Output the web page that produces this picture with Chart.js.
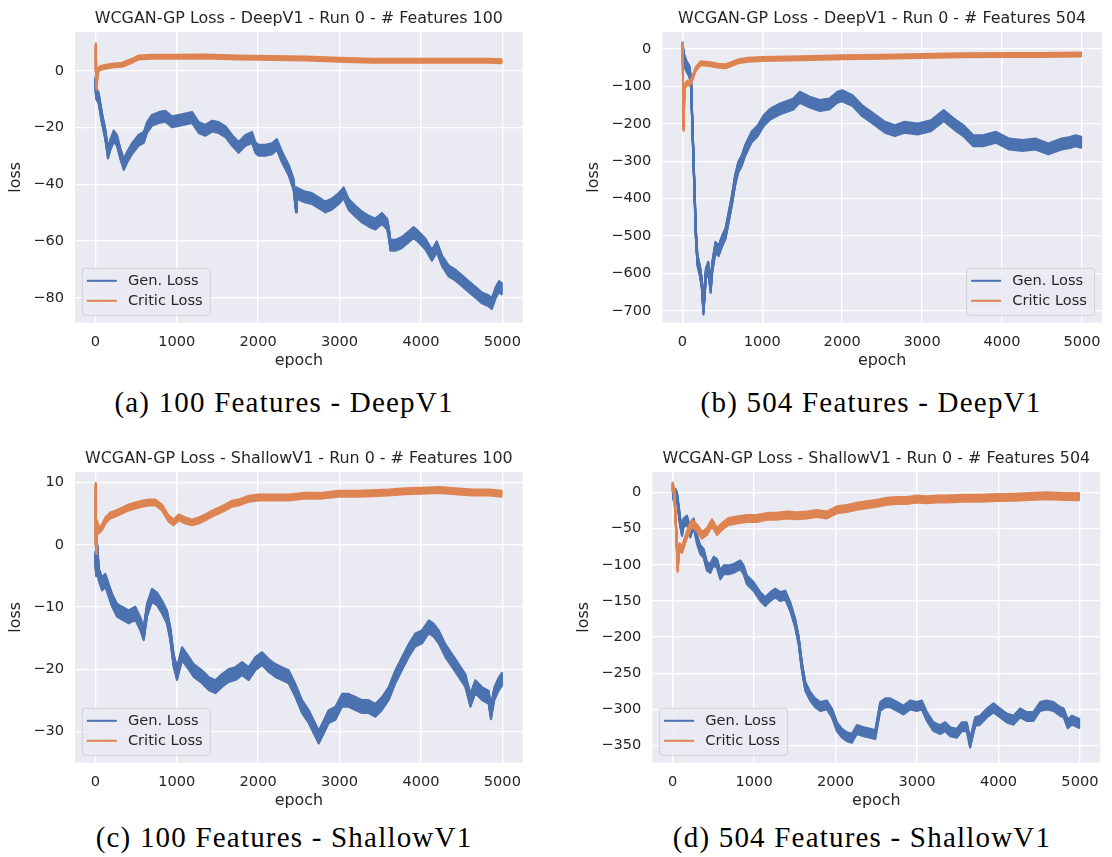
<!DOCTYPE html>
<html>
<head>
<meta charset="utf-8">
<script src="https://cdn.jsdelivr.net/npm/chart.js@4.4.1/dist/chart.umd.min.js"></script>
<style>
  body { margin: 0; background: #fff; }
  #page { position: relative; width: 1112px; height: 857px; overflow: hidden; }
  .panel { position: absolute; width: 556px; height: 380px; }
  .caption {
    position: absolute;
    font-family: "Liberation Serif", serif;
    font-size: 29px;
    color: #000;
    white-space: nowrap;
    letter-spacing: 1.2px;
    transform: translate(-50%, -50%);
  }
</style>
</head>
<body>
<div id="page">
  <div class="panel" style="left:0;top:0"><canvas id="chartA" width="556" height="380"></canvas></div>
  <div class="panel" style="left:556px;top:0"><canvas id="chartB" width="556" height="380"></canvas></div>
  <div class="panel" style="left:0;top:440px"><canvas id="chartC" width="556" height="380"></canvas></div>
  <div class="panel" style="left:556px;top:440px"><canvas id="chartD" width="556" height="380"></canvas></div>
  <div class="caption" id="capA" style="left:284px;top:402px"></div>
  <div class="caption" id="capB" style="left:871px;top:402px"></div>
  <div class="caption" id="capC" style="left:284px;top:837px"></div>
  <div class="caption" id="capD" style="left:862px;top:837px"></div>
</div>
<script>
// titles, captions and ticks
const titles = [
  "WCGAN-GP Loss - DeepV1 - Run 0 - # Features 100",
  "WCGAN-GP Loss - DeepV1 - Run 0 - # Features 504",
  "WCGAN-GP Loss - ShallowV1 - Run 0 - # Features 100",
  "WCGAN-GP Loss - ShallowV1 - Run 0 - # Features 504"
];
const captions = [
  "(a) 100 Features - DeepV1",
  "(b) 504 Features - DeepV1",
  "(c) 100 Features - ShallowV1",
  "(d) 504 Features - ShallowV1"
];
const seriesNames = ["Gen. Loss", "Critic Loss"];
const xTicks = [0, 1000, 2000, 3000, 4000, 5000];
const yTicksA = [0, -20, -40, -60, -80];
const yTicksB = [0, -100, -200, -300, -400, -500, -600, -700];
const yTicksC = [10, 0, -10, -20, -30];
const yTicksD = [0, -50, -100, -150, -200, -250, -300, -350];

// DeepV1, 100 features
const genEpochsA = [0, 10, 40, 80, 120, 155, 185, 225, 265, 305, 350, 390, 450, 530, 595, 635, 695, 780, 860, 940,
  1025, 1105, 1190, 1270, 1350, 1435, 1515, 1600, 1680, 1760, 1845, 1925, 1965, 2005, 2090, 2170, 2230, 2295, 2375, 2435,
  2465, 2475, 2500, 2580, 2660, 2745, 2825, 2905, 2990, 3050, 3110, 3195, 3275, 3360, 3440, 3520, 3585, 3610, 3625, 3685,
  3765, 3850, 3910, 3970, 4055, 4135, 4195, 4260, 4340, 4425, 4505, 4585, 4670, 4750, 4830, 4870, 4920, 4960, 5000];
const genLossA = [-4, -8, -9.5, -16.5, -22, -29, -26, -23, -24.5, -29, -33, -30.5, -27.5, -24.5, -23.5, -20, -17.5, -16.5, -16, -18,
  -17.5, -17, -16.5, -20, -21, -19.5, -20, -21.5, -24.5, -27, -24.5, -23.5, -27, -28, -28, -27.5, -26, -30.5, -35, -40,
  -48, -43, -43.5, -44.5, -45, -46.5, -48, -47, -45, -43, -47, -49.5, -51.5, -53, -54, -52, -54, -58, -61.5, -61.5,
  -60.5, -58.5, -57, -58.5, -61, -65, -62, -67, -70.5, -72, -74, -76, -78, -80, -81, -82, -78, -76, -77];
const criticEpochsA = [0, 5, 15, 30, 60, 100, 200, 330, 450, 530, 700, 940, 1350, 1760, 2170, 2580, 2990, 3400, 3810, 4220, 4830, 5000];
const criticLossA = [0, 9, -6, 0, 1, 1.2, 1.8, 2.1, 3.5, 4.7, 4.9, 4.9, 5, 4.7, 4.5, 4.3, 3.9, 3.5, 3.5, 3.5, 3.5, 3.3];

// DeepV1, 504 features
const genEpochsB = [0, 25, 50, 90, 110, 130, 150, 170, 190, 220, 245, 265, 295, 325, 355, 375, 415, 455, 500, 540,
  580, 620, 660, 700, 745, 785, 865, 945, 1020, 1100, 1225, 1390, 1470, 1595, 1720, 1840, 1940, 2000, 2130, 2250,
  2370, 2535, 2660, 2780, 2945, 3110, 3270, 3395, 3515, 3640, 3760, 3925, 4090, 4255, 4415, 4580, 4745, 4850, 4920, 5000];
const genLossB = [5, -30, -45, -60, -93, -227, -360, -494, -565, -592, -628, -695, -601, -583, -637, -583, -530, -539, -512, -494,
  -450, -405, -352, -316, -298, -272, -236, -218, -191, -174, -160, -147, -129, -142, -151, -147, -129, -125, -138, -165,
  -183, -209, -218, -209, -214, -205, -178, -200, -218, -245, -245, -236, -254, -258, -254, -267, -254, -250, -245, -250];
const criticEpochsB = [0, 8, 16, 25, 35, 60, 90, 130, 170, 230, 335, 455, 540, 620, 700, 825, 1000, 1500, 2000, 2500, 3000, 3500, 4000, 4500, 5000];
const criticLossB = [10, -60, -214, -130, -100, -90, -93, -76, -53, -38, -40, -45, -46, -40, -33, -29, -27, -25, -22, -20.5, -19, -17, -16, -16, -15];

// ShallowV1, 100 features
const genEpochsC = [0, 10, 25, 41, 82, 123, 164, 205, 266, 328, 410, 491, 553, 594, 635, 696, 758, 819, 880, 921,
  962, 1003, 1065, 1126, 1208, 1310, 1392, 1474, 1556, 1638, 1720, 1802, 1884, 1966, 2048, 2129, 2211, 2293, 2375, 2457,
  2539, 2621, 2703, 2744, 2805, 2867, 2948, 3030, 3112, 3194, 3276, 3358, 3440, 3522, 3604, 3686, 3767, 3849, 3931, 4013,
  4095, 4156, 4218, 4300, 4382, 4464, 4545, 4607, 4668, 4750, 4832, 4860, 4900, 4950, 5000];
const genLossC = [-2, -4, -1, -4.7, -6.3, -5.7, -7.3, -8.9, -10.5, -11, -11.6, -11, -12.7, -14.3, -10.5, -8.1, -8.7, -10, -11.6, -14.3,
  -18.6, -20.7, -17.5, -18.6, -20.2, -21.2, -22.3, -22.8, -21.8, -21, -20.7, -19.9, -20.7, -19.1, -18.3, -19.4, -20.2, -20.7, -21.2, -23.4,
  -26, -27.6, -29.8, -30.9, -29.3, -27.6, -27.1, -25, -25, -25.5, -26, -26, -26.6, -25.5, -23.9, -21.2, -19.1, -17, -15.3, -14.8,
  -13.2, -13.7, -14.8, -17, -18.6, -20.2, -21.8, -25, -22.8, -23.9, -24.5, -27, -24, -22.5, -21.5];
const criticEpochsC = [0, 5, 12, 20, 41, 82, 123, 184, 246, 328, 410, 491, 573, 655, 737, 819, 901, 962, 1024, 1106,
  1188, 1270, 1351, 1433, 1515, 1597, 1679, 1761, 1884, 2007, 2170, 2375, 2580, 2785, 2989, 3194, 3399, 3604, 3808, 4013,
  4218, 4423, 4627, 4832, 5000];
const criticLossC = [0, 9.5, -1, 3.4, 2.3, 2.8, 3.9, 4.7, 5, 5.5, 6, 6.3, 6.6, 6.8, 6.8, 6, 4.2, 3.6, 4.4, 3.9,
  3.6, 3.9, 4.4, 5, 5.5, 6, 6.6, 6.8, 7.4, 7.6, 7.6, 7.6, 7.9, 7.9, 8.2, 8.2, 8.3, 8.4, 8.6, 8.7,
  8.8, 8.6, 8.4, 8.4, 8.2];

// ShallowV1, 504 features
const genEpochsD = [0, 12, 33, 53, 74, 94, 115, 135, 176, 217, 258, 299, 339, 380, 421, 462, 503, 544, 585, 626,
  687, 748, 830, 871, 912, 994, 1076, 1137, 1198, 1260, 1321, 1382, 1444, 1505, 1546, 1587, 1628, 1689, 1751, 1812,
  1894, 1955, 2016, 2077, 2139, 2200, 2262, 2344, 2425, 2487, 2548, 2609, 2671, 2753, 2834, 2916, 2998, 3059, 3121, 3202,
  3284, 3346, 3407, 3489, 3550, 3611, 3652, 3714, 3775, 3857, 3939, 4020, 4102, 4184, 4266, 4348, 4429, 4511, 4593, 4675,
  4757, 4800, 4850, 4900, 5000];
const genLossD = [8, -5.5, -1, -5.5, -24, -42, -54, -42, -38, -56, -42, -65, -79, -84, -102, -105, -95, -98, -114, -107,
  -107, -105, -100, -107, -121, -130, -144, -151, -144, -139, -144, -142, -158, -181, -204, -241, -268, -282, -291, -296,
  -294, -305, -324, -333, -338, -340, -328, -331, -333, -335, -296, -291, -291, -296, -301, -294, -296, -294, -310, -324,
  -328, -324, -331, -333, -324, -324, -347, -317, -315, -305, -298, -305, -312, -315, -305, -310, -310, -296, -294, -296,
  -303, -305, -320, -315, -320];
const criticEpochsD = [0, 20, 45, 61, 82, 115, 155, 196, 237, 299, 360, 421, 483, 544, 605, 687, 789, 912, 1035, 1157,
  1280, 1403, 1526, 1648, 1771, 1894, 2016, 2139, 2262, 2384, 2507, 2630, 2753, 2875, 2998, 3121, 3243, 3366, 3571, 3775,
  3980, 4184, 4388, 4593, 4798, 5000];
const criticLossD = [10, -1, -56, -105, -75, -79, -65, -52, -42, -49, -59, -54, -42, -54, -47, -40, -38, -36, -36, -33,
  -33, -31, -32, -31, -29, -31, -24, -22, -19, -17, -15, -12, -11, -11, -9, -10, -9, -9, -8, -8,
  -7, -6.5, -5.5, -4.6, -5.5, -6];

const BLUE = "#4c72b0";
const ORANGE = "#dd8452";
const TEXT = "#262626";
const FONT = "DejaVu Sans";

Chart.defaults.font.family = FONT;
Chart.defaults.color = TEXT;

function pairs(xs, ys) {
  return xs.map((x, i) => ({ x: x, y: ys[i] }));
}

function minusLabel(v) {
  return v < 0 ? "\u2212" + Math.abs(v) : String(v);
}

const plotBackground = {
  id: "plotBackground",
  beforeDraw(chart) {
    const { ctx, chartArea: a } = chart;
    ctx.save();
    ctx.fillStyle = "#eaeaf2";
    ctx.fillRect(a.left, a.top, a.right - a.left, a.bottom - a.top);
    ctx.restore();
  }
};

// the per-epoch losses are noisy, so each trace reads as a band:
// restroke the line element shifted up and down by `band` pixels
const noiseBand = {
  id: "noiseBand",
  beforeDatasetDraw(chart, args) {
    const ds = chart.data.datasets[args.index];
    const line = args.meta.dataset;
    const h = ds.band || 0;
    if (!line || h <= 0) return;
    const { ctx, chartArea: a } = chart;
    ctx.save();
    ctx.beginPath();
    ctx.rect(a.left, a.top, a.right - a.left, a.bottom - a.top);
    ctx.clip();
    for (let dy = -h / 2; dy <= h / 2 + 0.01; dy += 1) {
      ctx.save();
      ctx.translate(0, dy);
      line.draw(ctx, a);
      ctx.restore();
    }
    ctx.restore();
  }
};

// legend box drawn inside the plot, in a lower corner
const boxLegend = {
  id: "boxLegend",
  afterDatasetsDraw(chart, args, opts) {
    const { ctx, chartArea: a } = chart;
    const w = 128, h = 47, inset = 7.3;
    const x0 = opts.side === "right" ? a.right - inset - w : a.left + inset;
    const y0 = a.bottom - inset - h;
    ctx.save();
    ctx.beginPath();
    ctx.roundRect(x0, y0, w, h, 3);
    ctx.fillStyle = "rgba(234,234,242,0.8)";
    ctx.fill();
    ctx.strokeStyle = "rgba(204,204,204,0.8)";
    ctx.lineWidth = 1;
    ctx.stroke();
    ctx.font = "14.6px " + FONT;
    ctx.textBaseline = "middle";
    ctx.fillStyle = TEXT;
    chart.data.datasets.forEach((ds, i) => {
      const y = y0 + 12.5 + i * 20;
      ctx.beginPath();
      ctx.moveTo(x0 + 4.5, y);
      ctx.lineTo(x0 + 34.5, y);
      ctx.strokeStyle = ds.borderColor;
      ctx.lineWidth = 2;
      ctx.stroke();
      ctx.fillText(ds.label, x0 + 45.6, y + 0.5);
    });
    ctx.restore();
  }
};

const panels = [
  { id: "chartA", genX: genEpochsA, genY: genLossA, critX: criticEpochsA, critY: criticLossA,
    yMin: -88.7, yMax: 13.65, yTicks: yTicksA, axisWidth: 75, padRight: 33.3, lossPad: 6.5,
    side: "left", genBand: 11, critBand: 4 },
  { id: "chartB", genX: genEpochsB, genY: genLossB, critX: criticEpochsB, critY: criticLossB,
    yMin: -731, yMax: 45.4, yTicks: yTicksB, axisWidth: 106.3, padRight: 2, lossPad: 28.5,
    side: "right", genBand: 11, critBand: 4 },
  { id: "chartC", genX: genEpochsC, genY: genLossC, critX: criticEpochsC, critY: criticLossC,
    yMin: -35, yMax: 11.7, yTicks: yTicksC, axisWidth: 75, padRight: 33.3, lossPad: 6.5,
    side: "left", genBand: 13, critBand: 6 },
  { id: "chartD", genX: genEpochsD, genY: genLossD, critX: criticEpochsD, critY: criticLossD,
    yMin: -373.7, yMax: 28.4, yTicks: yTicksD, axisWidth: 96.3, padRight: 11.7, lossPad: 18.5,
    side: "left", genBand: 9, critBand: 7 }
];

panels.forEach((p, k) => {
  document.getElementById("cap" + "ABCD"[k]).textContent = captions[k];

  new Chart(document.getElementById(p.id), {
    type: "line",
    data: {
      datasets: [
        {
          label: seriesNames[0],
          data: pairs(p.genX, p.genY),
          borderColor: BLUE,
          borderWidth: 2,
          borderJoinStyle: "round",
          pointRadius: 0,
          order: 1,
          band: p.genBand
        },
        {
          label: seriesNames[1],
          data: pairs(p.critX, p.critY),
          borderColor: ORANGE,
          borderWidth: 2,
          borderJoinStyle: "round",
          pointRadius: 0,
          order: 0,
          band: p.critBand
        }
      ]
    },
    options: {
      responsive: false,
      animation: false,
      layout: { padding: { left: 0, right: p.padRight, top: 0, bottom: 0 } },
      plugins: {
        legend: { display: false },
        tooltip: { enabled: false },
        title: {
          display: true,
          text: titles[k],
          fullSize: false,
          color: TEXT,
          font: { size: 15.9, weight: "normal", lineHeight: 1.2 },
          padding: { top: 9.5, bottom: 3.4 }
        },
        boxLegend: { side: p.side }
      },
      scales: {
        x: {
          type: "linear",
          min: -250,
          max: 5250,
          afterBuildTicks: s => { s.ticks = xTicks.map(v => ({ value: v })); },
          afterFit: s => { s.height = 380 - 322.6; },
          ticks: { padding: 11, font: { size: 14.6 }, color: TEXT, maxRotation: 0, callback: v => String(v) },
          grid: { color: "#ffffff", lineWidth: 1.33, drawTicks: false },
          border: { display: false },
          title: {
            display: true, text: "epoch", color: TEXT,
            font: { size: 15.9, lineHeight: 1.2 },
            padding: { top: 0, bottom: 9.5 }
          }
        },
        y: {
          type: "linear",
          min: p.yMin,
          max: p.yMax,
          afterBuildTicks: s => { s.ticks = p.yTicks.map(v => ({ value: v })); },
          afterFit: s => { s.width = p.axisWidth; },
          ticks: { padding: 11, font: { size: 14.6 }, color: TEXT, callback: v => minusLabel(v) },
          grid: { color: "#ffffff", lineWidth: 1.33, drawTicks: false },
          border: { display: false },
          title: {
            display: true, text: "loss", color: TEXT,
            font: { size: 15.9, lineHeight: 1.2 },
            padding: { top: p.lossPad, bottom: 0 }
          }
        }
      }
    },
    plugins: [plotBackground, noiseBand, boxLegend]
  });
});
</script>
</body>
</html>
